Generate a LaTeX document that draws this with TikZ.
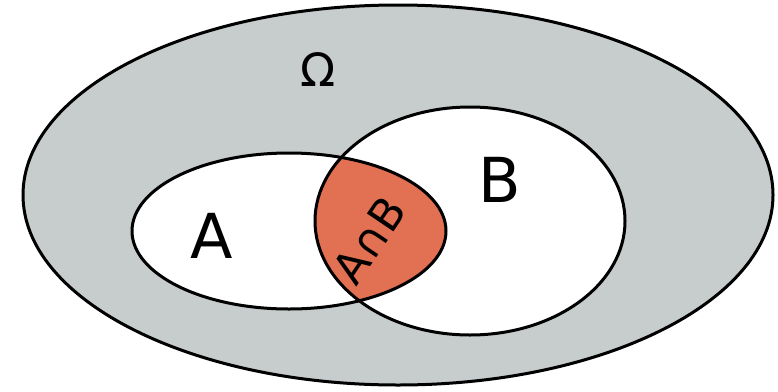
\documentclass[tikz,border=0pt]{standalone}
\usepackage{fontspec}
\setmainfont{DejaVu Sans}
\definecolor{omegagrey}{RGB}{199,204,204}
\definecolor{capred}{RGB}{226,112,82}
\begin{document}
\begin{tikzpicture}[x=1pt,y=-1pt,
  setline/.style={line width=3pt,draw=black},
  lbl/.style={inner sep=0pt,font=\fontsize{62}{62}\selectfont}]
\useasboundingbox (0,0) rectangle (778,391);
\coordinate (O) at (398,195);
\coordinate (Ac) at (289,231);
\coordinate (Bc) at (470,221);
% universe
\path[setline,fill=omegagrey] (O) ellipse [x radius=375, y radius=190];
% sets filled white
\path[fill=white] (Ac) ellipse [x radius=157, y radius=78];
\path[fill=white] (Bc) ellipse [x radius=155, y radius=114];
% intersection
\begin{scope}
  \clip (Ac) ellipse [x radius=157, y radius=78];
  \fill[capred] (Bc) ellipse [x radius=155, y radius=114];
\end{scope}
\path[setline] (Ac) ellipse [x radius=157, y radius=78];
\path[setline] (Bc) ellipse [x radius=155, y radius=114];
% labels
\node[lbl,font=\fontsize{46}{46}\selectfont] (om) at (318,70) {Ω};
\node[lbl] (la) at (212,236) {A};
\node[lbl] (lb) at (500,180) {B};
\node[lbl,font=\fontsize{44}{44}\selectfont,rotate=56] (lab) at (369,240) {A∩B};
\end{tikzpicture}
\end{document}
